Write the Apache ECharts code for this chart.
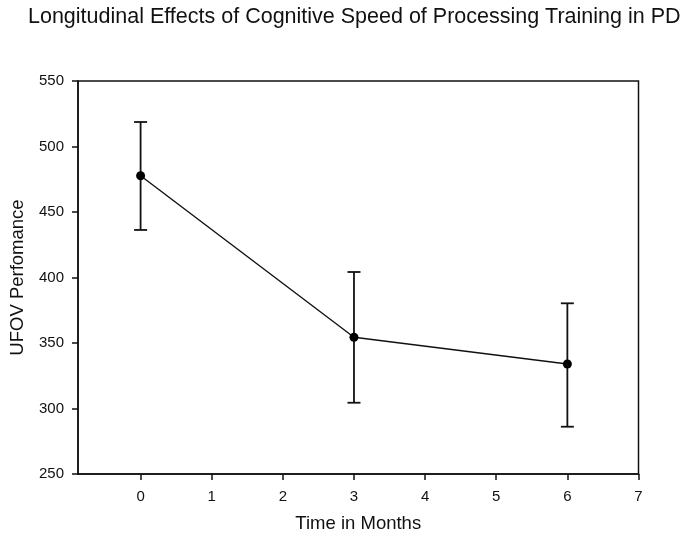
<!DOCTYPE html>
<html><head><meta charset="utf-8">
<script src="https://cdn.jsdelivr.net/npm/echarts@6/dist/echarts.min.js"></script>
<style>html,body{margin:0;padding:0;background:#fff}#c{width:690px;height:547px}</style>
</head><body><div id="c"></div>
<script>
const months = [0, 3, 6];
const means = [477.7, 354.4, 334];
const upper = [518.7, 404.2, 380.3];
const lower = [436.3, 304.4, 286.1];
const xTicks = [0, 1, 2, 3, 4, 5, 6, 7];

const chart = echarts.init(document.getElementById('c'));
const font = '"Liberation Sans", Arial, sans-serif';
chart.setOption({
  animation: false,
  backgroundColor: '#fff',
  title: {
    text: 'Longitudinal Effects of Cognitive Speed of Processing Training in PD',
    left: 23, top: 1,
    textStyle: {fontFamily: font, fontSize: 21.5, fontWeight: 'normal', color: '#111'}
  },
  grid: {left: 76, right: 51.5, top: 81, bottom: 73, show: true, borderColor: '#111', borderWidth: 1.5, backgroundColor: 'transparent'},
  xAxis: {
    type: 'value', min: -0.88, max: 7,
    name: 'Time in Months', nameLocation: 'middle', nameGap: 40,
    nameTextStyle: {fontFamily: font, fontSize: 18.5, color: '#111'},
    axisLine: {show: true, onZero: false, lineStyle: {color: '#111', width: 1.5}},
    axisTick: {show: true, length: 6, customValues: xTicks, lineStyle: {color: '#111', width: 1.5}},
    axisLabel: {customValues: xTicks, fontFamily: font, fontSize: 15, color: '#111', margin: 15},
    splitLine: {show: false}
  },
  yAxis: {
    type: 'value', min: 250, max: 550, interval: 50,
    name: 'UFOV Perfomance', nameLocation: 'middle', nameGap: 51,
    nameTextStyle: {fontFamily: font, fontSize: 18.5, color: '#111'},
    axisLine: {show: true, onZero: false, lineStyle: {color: '#111', width: 1.5}},
    axisTick: {show: true, length: 6, lineStyle: {color: '#111', width: 1.5}},
    axisLabel: {fontFamily: font, fontSize: 15, color: '#111', margin: 14},
    splitLine: {show: false}
  },
  series: [
    {
      type: 'custom',
      data: months.map((m, i) => [m, lower[i], upper[i]]),
      renderItem: function (params, api) {
        const x = api.value(0);
        const lo = api.coord([x, api.value(1)]);
        const hi = api.coord([x, api.value(2)]);
        const hw = 6.5;
        const st = {stroke: '#111', lineWidth: 1.8};
        return {type: 'group', children: [
          {type: 'line', shape: {x1: lo[0], y1: lo[1], x2: hi[0], y2: hi[1]}, style: st},
          {type: 'line', shape: {x1: hi[0] - hw, y1: hi[1], x2: hi[0] + hw, y2: hi[1]}, style: st},
          {type: 'line', shape: {x1: lo[0] - hw, y1: lo[1], x2: lo[0] + hw, y2: lo[1]}, style: st}
        ]};
      },
      z: 2
    },
    {
      type: 'line',
      data: months.map((m, i) => [m, means[i]]),
      symbol: 'circle', symbolSize: 9,
      lineStyle: {color: '#111', width: 1.4},
      itemStyle: {color: '#000'},
      z: 3
    }
  ]
});
</script></body></html>
